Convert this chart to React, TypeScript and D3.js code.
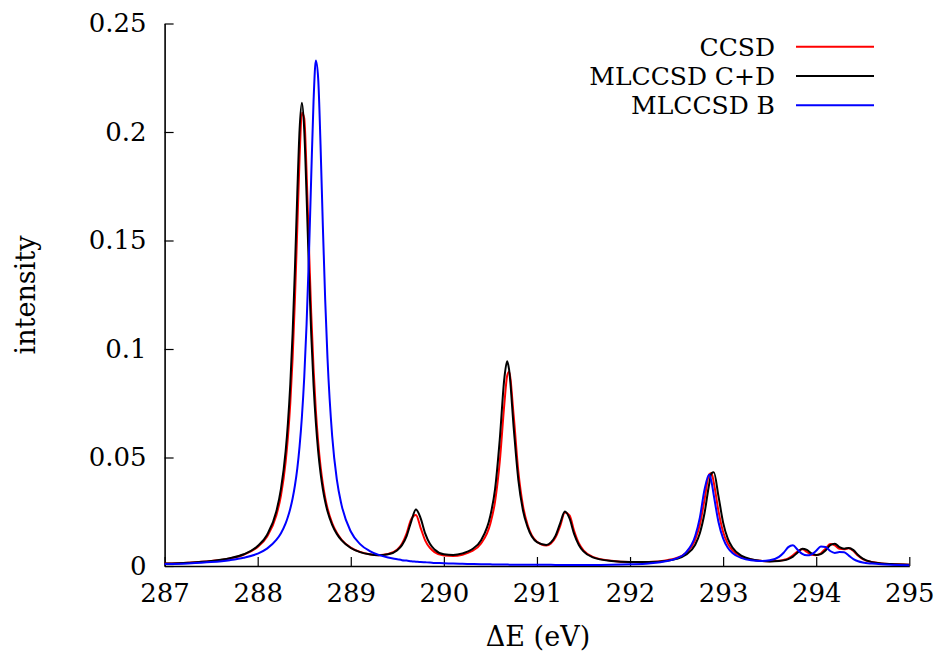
import React, { useEffect, useRef } from 'react';
import * as d3 from 'd3';

// energy grid (eV), denser around the peaks
const energies = [
  287, 287.25, 287.5, 287.7, 287.85, 288, 288.1, 288.2, 288.25, 288.3,
  288.325, 288.35, 288.375, 288.4, 288.425, 288.45, 288.475, 288.5, 288.525, 288.55,
  288.575, 288.6, 288.625, 288.65, 288.675, 288.7, 288.725, 288.75, 288.8, 288.85,
  288.9, 289, 289.1, 289.2, 289.3, 289.4, 289.5, 289.55, 289.6, 289.65,
  289.7, 289.75, 289.8, 289.85, 289.9, 290, 290.1, 290.2, 290.3, 290.4,
  290.5, 290.55, 290.6, 290.65, 290.68, 290.7, 290.75, 290.8, 290.85, 290.9,
  291, 291.1, 291.15, 291.2, 291.25, 291.3, 291.35, 291.4, 291.45, 291.5,
  291.6, 291.8, 292, 292.2, 292.4, 292.5, 292.6, 292.7, 292.75, 292.8,
  292.85, 292.875, 292.9, 292.95, 293, 293.05, 293.1, 293.2, 293.3, 293.4,
  293.5, 293.6, 293.65, 293.7, 293.75, 293.8, 293.85, 293.9, 293.95, 294,
  294.05, 294.1, 294.15, 294.2, 294.25, 294.3, 294.35, 294.4, 294.45, 294.5,
  294.6, 294.7, 294.8, 295
];

const ccsd = [
  0.0011, 0.0015, 0.0023, 0.0035, 0.0052, 0.0088, 0.0135, 0.0233, 0.0325, 0.0479,
  0.0595, 0.0749, 0.0955, 0.1227, 0.1552, 0.1880, 0.2089, 0.2064, 0.1819, 0.1484,
  0.1166, 0.0911, 0.0715, 0.0570, 0.0460, 0.0378, 0.0315, 0.0266, 0.0198, 0.0153,
  0.0122, 0.0085, 0.0065, 0.0054, 0.0050, 0.0055, 0.0076, 0.0103, 0.0151, 0.0217,
  0.0235, 0.0176, 0.0117, 0.0083, 0.0064, 0.0048, 0.0046, 0.0052, 0.0068, 0.0104,
  0.0196, 0.0297, 0.0478, 0.0748, 0.0877, 0.0895, 0.0693, 0.0436, 0.0277, 0.0189,
  0.0112, 0.0095, 0.0104, 0.0132, 0.0185, 0.0246, 0.0233, 0.0161, 0.0105, 0.0072,
  0.0042, 0.0024, 0.0018, 0.0019, 0.0027, 0.0037, 0.0060, 0.0121, 0.0190, 0.0305,
  0.0422, 0.0427, 0.0384, 0.0253, 0.0157, 0.0103, 0.0072, 0.0042, 0.0030, 0.0024,
  0.0022, 0.0024, 0.0028, 0.0035, 0.0049, 0.0068, 0.0077, 0.0065, 0.0052, 0.0050,
  0.0059, 0.0080, 0.0101, 0.0095, 0.0079, 0.0077, 0.0082, 0.0069, 0.0047, 0.0032,
  0.0018, 0.0012, 0.0009, 0.0006
];

const mlccsdCD = [
  0.0011, 0.0015, 0.0023, 0.0036, 0.0054, 0.0092, 0.0143, 0.0251, 0.0355, 0.0528,
  0.0660, 0.0835, 0.1070, 0.1369, 0.1710, 0.2010, 0.2135, 0.2010, 0.1710, 0.1369,
  0.1070, 0.0835, 0.0660, 0.0528, 0.0429, 0.0355, 0.0297, 0.0252, 0.0190, 0.0148,
  0.0119, 0.0083, 0.0064, 0.0054, 0.0050, 0.0054, 0.0073, 0.0096, 0.0138, 0.0206,
  0.0260, 0.0221, 0.0149, 0.0102, 0.0076, 0.0054, 0.0051, 0.0058, 0.0076, 0.0119,
  0.0233, 0.0354, 0.0580, 0.0866, 0.0943, 0.0907, 0.0638, 0.0397, 0.0256, 0.0179,
  0.0110, 0.0097, 0.0109, 0.0140, 0.0198, 0.0251, 0.0219, 0.0147, 0.0097, 0.0067,
  0.0040, 0.0023, 0.0018, 0.0018, 0.0024, 0.0033, 0.0052, 0.0098, 0.0151, 0.0243,
  0.0377, 0.0427, 0.0432, 0.0322, 0.0200, 0.0126, 0.0085, 0.0047, 0.0031, 0.0024,
  0.0021, 0.0023, 0.0026, 0.0032, 0.0043, 0.0062, 0.0080, 0.0074, 0.0058, 0.0051,
  0.0055, 0.0071, 0.0096, 0.0103, 0.0087, 0.0080, 0.0083, 0.0073, 0.0051, 0.0034,
  0.0018, 0.0012, 0.0009, 0.0006
];

const mlccsdB = [
  0.0009, 0.0012, 0.0018, 0.0027, 0.0038, 0.0057, 0.0080, 0.0120, 0.0151, 0.0196,
  0.0227, 0.0264, 0.0311, 0.0371, 0.0448, 0.0551, 0.0687, 0.0869, 0.1112, 0.1424,
  0.1793, 0.2141, 0.2329, 0.2245, 0.1943, 0.1567, 0.1228, 0.0957, 0.0600, 0.0399,
  0.0283, 0.0159, 0.0101, 0.0070, 0.0051, 0.0039, 0.0031, 0.0027, 0.0025, 0.0022,
  0.0020, 0.0018, 0.0017, 0.0016, 0.0014, 0.0013, 0.0011, 0.0010, 0.0009, 0.0008,
  0.00075, 0.0007, 0.0007, 0.00065, 0.00064, 0.00063, 0.0006, 0.0006, 0.00058, 0.00056,
  0.00054, 0.00053, 0.00052, 0.0005, 0.0005, 0.0005, 0.0005, 0.0005, 0.0005, 0.0005,
  0.0005, 0.0006, 0.0008, 0.0012, 0.0023, 0.0035, 0.0062, 0.0138, 0.0223, 0.0352,
  0.0422, 0.0388, 0.0325, 0.0203, 0.0127, 0.0084, 0.0060, 0.0036, 0.0026, 0.0023,
  0.0026, 0.0042, 0.0061, 0.0087, 0.0096, 0.0075, 0.0056, 0.0049, 0.0054, 0.0070,
  0.0090, 0.0088, 0.0069, 0.0060, 0.0064, 0.0063, 0.0048, 0.0032, 0.0022, 0.0016,
  0.0011, 0.0008, 0.0006, 0.0004
];

const seriesNames = ['CCSD', 'MLCCSD C+D', 'MLCCSD B'];
const seriesColors = ['#ff0000', '#000000', '#0000ff'];
const xTicks = [287, 288, 289, 290, 291, 292, 293, 294, 295];
const yTicks = [0, 0.05, 0.1, 0.15, 0.2, 0.25];
const yTickLabels = ['0', '0.05', '0.1', '0.15', '0.2', '0.25'];

const FONT = "'DejaVu Serif', 'Liberation Serif', serif";

const App = () => {
  const svgRef = useRef<SVGSVGElement>(null);

  useEffect(() => {
    const width = 940;
    const height = 654;
    const left = 164.6, right = 909.3, top = 23.5, bottom = 566;

    const svg = d3.select(svgRef.current);
    svg.selectAll('*').remove();
    svg.attr('width', width).attr('height', height);

    const x = d3.scaleLinear().domain([287, 295]).range([left, right]);
    const y = d3.scaleLinear().domain([0, 0.25]).range([bottom, top]);

    // axes (gnuplot style: ticks point inward, no top/right border)
    const gx = svg.append('g')
      .attr('transform', `translate(0,${bottom})`)
      .call(d3.axisBottom(x).tickValues(xTicks).tickFormat(d3.format('d'))
        .tickSize(-9).tickSizeOuter(0).tickPadding(18));
    const gy = svg.append('g')
      .attr('transform', `translate(${left},0)`)
      .call(d3.axisLeft(y).tickValues(yTicks).tickFormat((d, i) => yTickLabels[i])
        .tickSize(-9).tickSizeOuter(0).tickPadding(18));

    [gx, gy].forEach(g => {
      g.attr('font-family', null).attr('font-size', null)
        .style('font-family', FONT).style('font-size', '26px');
      g.select('.domain').attr('stroke', '#000').attr('stroke-width', 1.6);
      g.selectAll('.tick line').attr('stroke', '#000').attr('stroke-width', 1.2);
      g.selectAll('.tick text').attr('fill', '#000');
    });

    // axis titles
    svg.append('text')
      .attr('x', 538).attr('y', 646)
      .attr('text-anchor', 'middle')
      .style('font-family', FONT).style('font-size', '27px')
      .text('ΔE (eV)');

    svg.append('text')
      .attr('transform', 'translate(35,295) rotate(-90)')
      .attr('text-anchor', 'middle')
      .style('font-family', FONT).style('font-size', '27px')
      .text('intensity');

    // spectra
    const allSeries = [ccsd, mlccsdCD, mlccsdB];
    const line = d3.line<number>()
      .x((d, i) => x(energies[i]))
      .y(d => y(d))
      .curve(d3.curveMonotoneX);

    allSeries.forEach((values, k) => {
      svg.append('path')
        .datum(values)
        .attr('fill', 'none')
        .attr('stroke', seriesColors[k])
        .attr('stroke-width', 2)
        .attr('stroke-linejoin', 'round')
        .attr('d', line);
    });

    // legend
    const legend = svg.append('g');
    seriesNames.forEach((name, k) => {
      const ly = 46.7 + k * 29.3;
      legend.append('text')
        .attr('x', 775).attr('y', ly + 9)
        .attr('text-anchor', 'end')
        .style('font-family', FONT).style('font-size', '25px')
        .text(name);
      legend.append('line')
        .attr('x1', 796).attr('x2', 874)
        .attr('y1', ly).attr('y2', ly)
        .attr('stroke', seriesColors[k])
        .attr('stroke-width', 2);
    });
  }, []);

  return (
    <svg ref={svgRef} style={{ position: 'absolute', left: 0, top: 0, background: '#fff' }} />
  );
};

export default App;
